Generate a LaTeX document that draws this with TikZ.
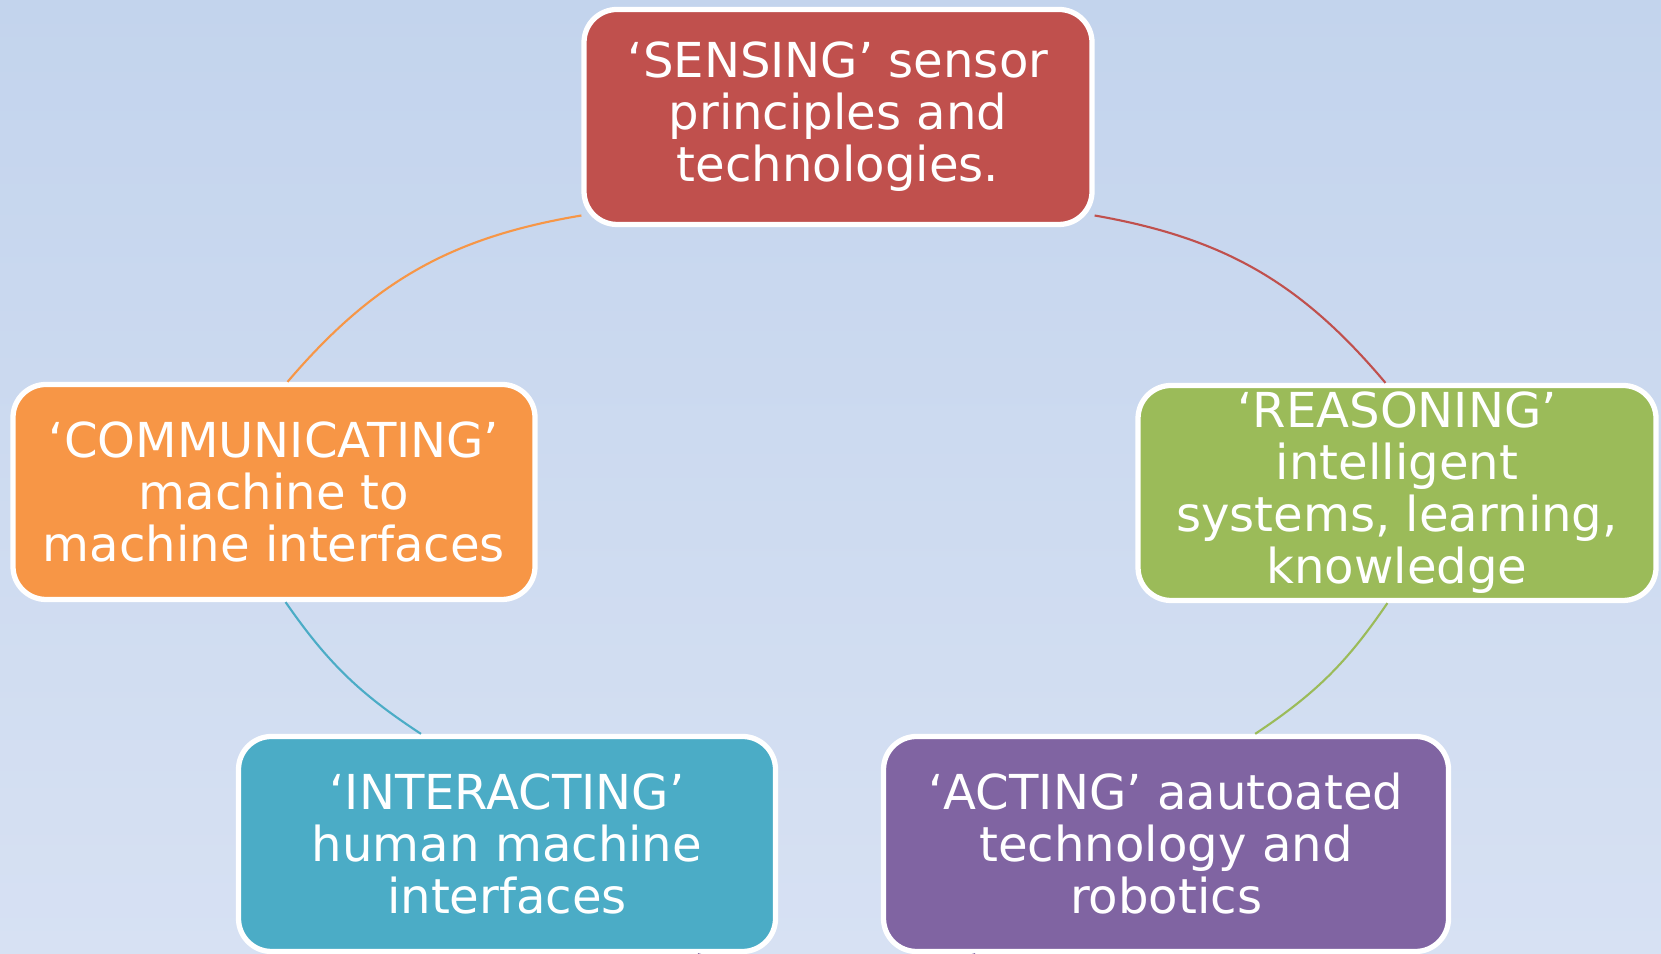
\documentclass[tikz,border=0pt]{standalone}
\usepackage{fontspec}
\setmainfont{DejaVu Sans}
\usepackage{tikz}
\definecolor{cycred}{RGB}{192,80,77}
\definecolor{cycgreen}{RGB}{155,187,89}
\definecolor{cycpurple}{RGB}{128,100,162}
\definecolor{cycteal}{RGB}{75,172,198}
\definecolor{cycorange}{RGB}{247,150,70}
\definecolor{bgtop}{RGB}{195,212,237}
\definecolor{bgbottom}{RGB}{215,225,243}
\tikzset{
  cycblock/.style={rectangle, draw=white, line width=1.5pt, text=white,
    align=center, minimum height=2.15cm, rounded corners=0.33cm,
    inner ysep=1pt, font=\fontsize{13.7}{14.8}\selectfont},
  redblock/.style={cycblock, fill=cycred},
  greenblock/.style={cycblock, fill=cycgreen},
  purpleblock/.style={cycblock, fill=cycpurple},
  tealblock/.style={cycblock, fill=cycteal},
  orangeblock/.style={cycblock, fill=cycorange},
  link/.style={line width=0.6pt}
}

\begin{document}
\begin{tikzpicture}
  \useasboundingbox (0,0) rectangle (16.61,9.54);
  \clip (0,0) rectangle (16.61,9.54);
  \shade[top color=bgtop, bottom color=bgbottom] (0,0) rectangle (16.61,9.54);
  \node[redblock, minimum width=5.08cm] (sense) at (8.38,8.37)
    {‘SENSING’ sensor\\principles and\\technologies.};
  \node[greenblock, minimum width=5.18cm] (reason) at (13.97,4.61)
    {‘REASONING’\\intelligent\\systems, learning,\\knowledge};
  \node[purpleblock, minimum width=5.65cm] (act) at (11.66,1.10)
    {‘ACTING’ aautoated\\technology and\\robotics};
  \node[tealblock, minimum width=5.37cm] (interact) at (5.07,1.10)
    {‘INTERACTING’\\human machine\\interfaces};
  \node[orangeblock, minimum width=5.22cm] (comm) at (2.74,4.62)
    {‘COMMUNICATING’\\machine to\\machine interfaces};
  \draw[link, cycred] (sense.339) to[bend left=20] (reason.96);
  \draw[link, cycgreen] (reason.265) to[bend left=11] (act.51);
  \draw[link, cycpurple] (act.210) to[bend left=16] (interact.330);
  \draw[link, cycteal] (interact.128) to[bend left=11] (comm.276);
  \draw[link, cycorange] (comm.83) to[bend left=20] (sense.201);
\end{tikzpicture}
\end{document}
